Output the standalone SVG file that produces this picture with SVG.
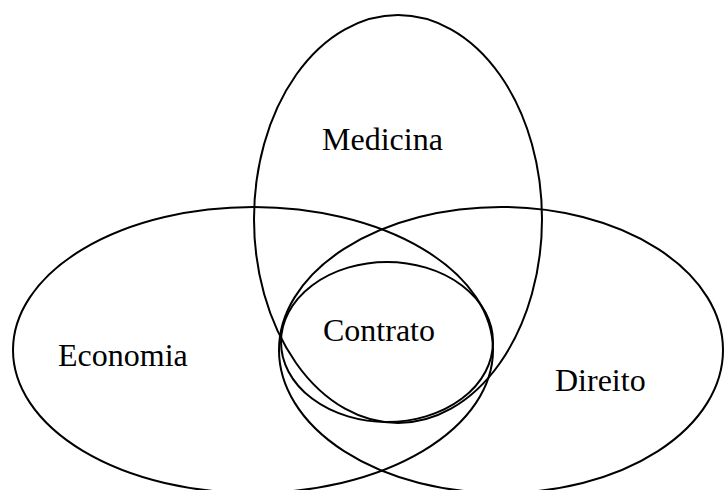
<svg xmlns="http://www.w3.org/2000/svg" width="724" height="490" viewBox="0 0 724 490">
<style>
.s{fill:none;stroke:#000;stroke-width:2}
.t{font-family:"Liberation Serif","Times New Roman",serif;font-size:32px;fill:#000}
</style>
<rect width="724" height="490" fill="#fff"/>
<g id="economia"><ellipse class="s" cx="253" cy="350" rx="240" ry="143"/><text class="t" x="58" y="366">Economia</text></g>
<g id="direito"><ellipse class="s" cx="501" cy="350" rx="222" ry="143"/><text class="t" x="555" y="391">Direito</text></g>
<g id="medicina"><ellipse class="s" cx="398" cy="219" rx="144" ry="204"/><text class="t" x="322" y="150">Medicina</text></g>
<g id="contrato"><ellipse class="s" cx="387" cy="342" rx="106" ry="80"/><text class="t" x="323" y="341">Contrato</text></g>
<g id="connectors"/>
</svg>
